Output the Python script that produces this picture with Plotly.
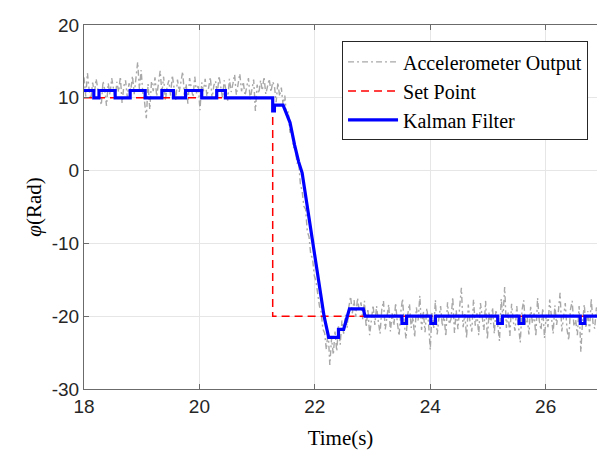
import numpy as np
import plotly.graph_objects as go

# ---------------- data ----------------
acc_t0 = 18.0
acc_dt = 0.03
acc_vals = [
    12.8, 10.2, 13.4, 11.0, 9.8, 12.1, 10.6, 12.6, 11.2, 10.0,
    9.0, 12.3, 11.1, 8.9, 12.0, 10.4, 12.7, 11.3, 9.9, 12.2,
    10.8, 12.9, 9.3, 11.6, 12.4, 10.1, 12.0, 11.0, 13.0, 10.5,
    12.6, 14.9, 11.2, 13.8, 10.6, 9.4, 7.2, 11.9, 8.4, 12.3,
    10.9, 12.8, 10.2, 11.8, 13.7, 10.7, 12.9, 9.6, 11.5, 12.4,
    10.3, 13.1, 11.0, 9.7, 12.5, 10.8, 12.2, 13.6, 10.4, 11.9,
    9.2, 12.7, 11.3, 10.1, 12.9, 10.6, 11.8, 8.3, 12.1, 10.9,
    12.6, 10.2, 11.4, 12.8, 9.9, 11.7, 12.3, 10.5, 13.0, 11.1,
    10.0, 12.4, 11.2, 9.6, 12.6, 10.8, 11.9, 13.2, 10.4, 12.0,
    13.3, 10.9, 12.2, 10.3, 11.6, 12.7, 9.8, 11.4, 12.5, 8.2,
    11.8, 10.6, 12.4, 11.0, 12.9, 10.5, 11.7, 12.6, 10.8, 12.2,
    11.6, 9.4, 12.1, 10.2, 11.4, 9.0, 10.3, 7.6, 8.1, 5.2,
    5.8, 3.1, 3.6, 1.0, 1.2, -1.9, -2.8, -4.9, -5.3, -8.4,
    -9.1, -11.6, -12.0, -14.4, -15.2, -17.0, -18.6, -19.4, -21.8, -22.3,
    -24.6, -21.9, -26.7, -23.0, -25.3, -22.1, -24.8, -21.4, -23.9, -20.6,
    -22.4, -19.8, -21.6, -18.7, -17.3, -19.6, -17.8, -20.1, -17.5, -19.3,
    -18.1, -20.4, -17.9, -21.5, -19.0, -22.6, -20.3, -18.5,
    -21.2, -18.6, -20.7, -22.4, -19.1, -17.9, -21.8, -20.2, -18.4, -22.1,
    -19.6, -21.3, -18.2, -20.9, -22.7, -19.4, -17.6, -21.0, -23.1, -19.8,
    -18.3, -21.6, -20.1, -22.9, -18.8, -20.6, -17.2, -21.9, -19.3, -22.2,
    -18.9, -20.8, -24.6, -19.5, -21.7, -17.8, -22.5, -20.3, -18.6, -21.4,
    -19.9, -22.8, -18.1, -21.1, -20.4, -17.4, -22.3, -19.2, -21.8, -18.7,
    -16.1, -21.5, -19.7, -23.0, -18.4, -20.9, -22.1, -17.7, -21.3, -19.6,
    -22.6, -18.2, -20.5, -21.9, -17.9, -23.2, -19.4, -21.1, -18.8, -22.4,
    -19.1, -21.7, -23.4, -17.6, -20.2, -16.0, -21.6, -19.5, -22.7, -18.3,
    -20.8, -22.0, -18.6, -21.4, -23.6, -19.2, -17.8, -21.2, -20.1, -22.5,
    -18.7, -21.0, -19.6, -22.8, -17.5, -20.6, -21.9, -18.9, -23.0, -19.8,
    -21.5, -17.7, -20.3, -22.4, -18.5, -21.2, -19.4, -16.8, -22.1, -20.0,
    -18.2, -21.8, -23.3, -19.1, -17.9, -21.4, -20.5, -22.6, -18.6, -24.9,
    -20.7, -18.4, -21.6, -19.3, -22.2, -17.6, -20.9, -21.7, -18.8, -20.4,
]
acc_t = acc_t0 + acc_dt * np.arange(len(acc_vals))

set_t = [18.0, 21.27, 21.27, 26.95]
set_v = [10, 10, -20, -20]

kf_t = [18.0, 18.17, 18.17, 18.26, 18.26, 18.54, 18.54, 18.80, 18.80, 19.06,
        19.06, 19.35, 19.35, 19.55, 19.55, 19.76, 19.76, 20.04, 20.04, 20.30,
        20.30, 20.45, 20.45, 21.27, 21.27, 21.30, 21.30, 21.45, 21.50, 21.57,
        21.65, 21.72, 21.78, 21.86, 21.95, 22.02, 22.09, 22.16, 22.24, 22.41,
        22.41, 22.50, 22.60, 22.84, 22.87,
        23.51, 23.51, 23.59, 23.59,
        24.01, 24.01, 24.09, 24.09,
        25.17, 25.17, 25.25, 25.25,
        25.54, 25.54, 25.62, 25.62,
        26.60, 26.60, 26.68, 26.68, 26.95]
kf_v = [11, 11, 10, 10, 11, 11, 10, 10, 11, 11,
        10, 10, 11, 11, 10, 10, 11, 11, 10, 10,
        11, 11, 10, 10, 8.2, 8.2, 9, 9, 8, 6.6,
        3.5, 1.2, -0.3, -4.5, -9.5, -13.2, -16.8, -20.0, -22.9, -22.9,
        -21.8, -21.8, -19.0, -19.0, -20.0,
        -20, -21, -21, -20,
        -20, -21, -21, -20,
        -20, -21, -21, -20,
        -20, -21, -21, -20,
        -20, -21, -21, -20, -20]

x_ticks = [18, 20, 22, 24, 26]
x_ticktext = ["18", "20", "22", "24", "26"]
y_ticks = [-30, -20, -10, 0, 10, 20]
y_ticktext = ["-30", "-20", "-10", "0", "10", "20"]

# ---------------- figure ----------------
fig = go.Figure()
fig.add_trace(go.Scatter(
    x=acc_t, y=acc_vals, mode="lines", name="Accelerometer Output",
    line=dict(color="#a8a8a8", width=1.4, dash="6px,3px,2px,3px")))
fig.add_trace(go.Scatter(
    x=set_t, y=set_v, mode="lines", name="Set Point",
    line=dict(color="#ff0000", width=1.5, dash="8px,5px")))
fig.add_trace(go.Scatter(
    x=kf_t, y=kf_v, mode="lines", name="Kalman Filter",
    line=dict(color="#0000ff", width=3.2)))

axis_common = dict(
    showgrid=True, gridcolor="#e6e6e6", gridwidth=1,
    showline=True, linecolor="#6b6b6b", linewidth=1,
    ticks="inside", ticklen=5, tickcolor="#6b6b6b",
    zeroline=False, automargin=False,
    tickfont=dict(family="Liberation Sans, Arial, sans-serif", size=19, color="#262626"),
)

fig.update_layout(
    width=597, height=459,
    margin=dict(l=84, r=0, t=25, b=70),
    paper_bgcolor="white", plot_bgcolor="white",
    showlegend=True,
    legend=dict(
        x=0.503, y=0.955, xanchor="left", yanchor="top",
        bgcolor="white", bordercolor="#262626", borderwidth=1,
        font=dict(family="Liberation Serif, Times New Roman, serif", size=20, color="#000000"),
        tracegroupgap=0, itemwidth=50,
    ),
    xaxis=dict(
        range=[18, 26.89], tickvals=x_ticks, ticktext=x_ticktext, mirror="ticks",
        title=dict(text="Time(s)", standoff=14,
                   font=dict(family="Liberation Serif, Times New Roman, serif", size=21, color="#000000")),
        **axis_common),
    yaxis=dict(
        range=[-30, 20], tickvals=y_ticks, ticktext=y_ticktext,
        title=dict(text="<i>φ</i>(Rad)", standoff=4,
                   font=dict(family="Liberation Serif, Times New Roman, serif", size=21, color="#000000")),
        **axis_common),
)

# remove the default page margin so the 597x459 figure fills the window exactly
fig.write_html("out.html",
               config={"displayModeBar": False},
               post_script="document.body.style.margin='0';document.body.style.overflow='hidden';")
